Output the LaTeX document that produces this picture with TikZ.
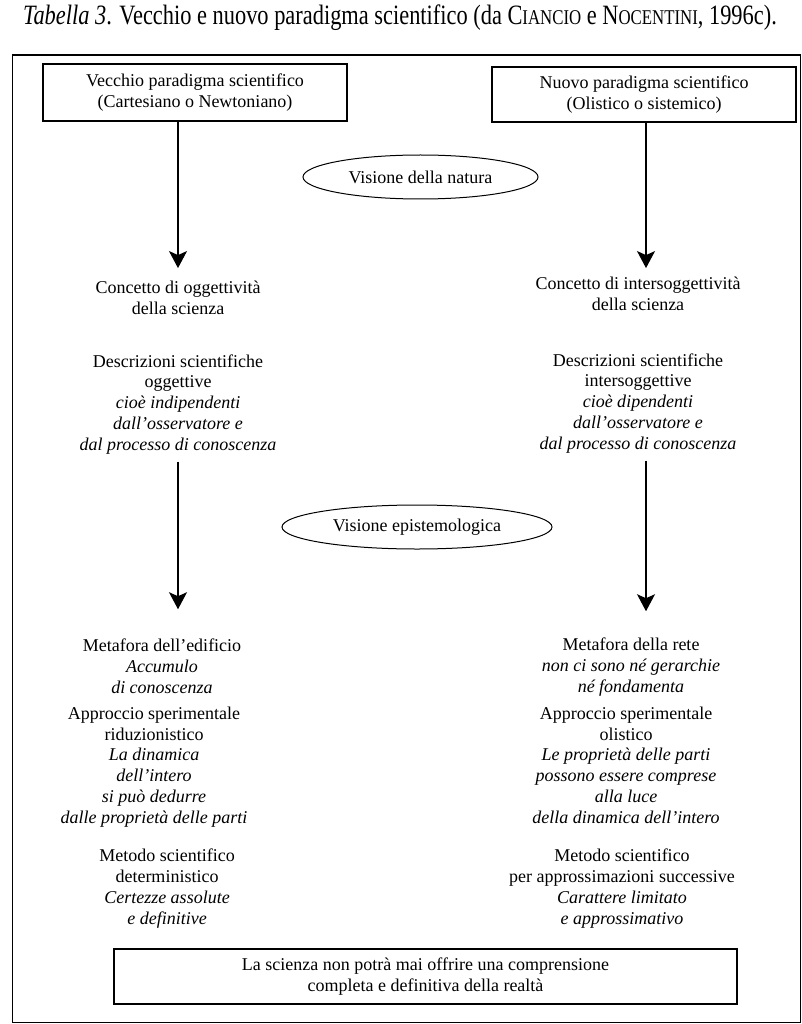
\documentclass[tikz,border=0pt]{standalone}
\usepackage{fontspec}
\setmainfont{Liberation Serif}
\usetikzlibrary{arrows.meta,shapes.geometric}
\newcommand{\fakesc}[1]{{\fontsize{21}{21}\selectfont #1}}
\tikzset{
  txt/.style={align=center, font=\fontsize{18}{20.7}\selectfont, inner sep=0pt, anchor=base},
  boxnode/.style={draw, line width=1.1pt, align=center, font=\fontsize{18}{20.7}\selectfont, inner sep=0pt},
  oval/.style={ellipse, draw, line width=1pt, inner sep=0pt, font=\fontsize{18}{20.7}\selectfont},
  arr/.style={line width=1.3pt, -{Stealth[length=17pt,width=18pt,inset=4pt]}}
}
\begin{document}
\begin{tikzpicture}[x=1pt,y=-1pt]
\useasboundingbox (0,0) rectangle (802,1024);
% title
\node[anchor=base, inner sep=0pt] (title) at (400,24.5)
  {\scalebox{0.8}[1]{\fontsize{28}{28}\selectfont\textit{Tabella 3}. Vecchio e nuovo paradigma scientifico (da C\fakesc{IANCIO} e N\fakesc{OCENTINI}, 1996c).}};
% frame
\draw[line width=1.5pt] (12.5,55) rectangle (800.5,1022.5);
% top boxes
\node[boxnode, minimum width=304pt, minimum height=57pt] (old) at (195,92.5)
  {Vecchio paradigma scientifico\\(Cartesiano o Newtoniano)};
\node[boxnode, minimum width=304pt, minimum height=55pt] (new) at (644,94.5)
  {Nuovo paradigma scientifico\\(Olistico o sistemico)};
% ovals
\node[oval, minimum width=235pt, minimum height=44pt] (natura) at (420.5,177) {Visione della natura};
\node[oval, minimum width=270pt, minimum height=44pt] (episte) at (417,527) {Visione epistemologica};
% left column (anchor base = baseline of the last line)
\node[txt] (A1) at (178,314) {Concetto di oggettività\\della scienza};
\node[txt] (A2) at (178,450) {Descrizioni scientifiche\\oggettive\\\textit{cioè indipendenti}\\\textit{dall’osservatore e}\\\textit{dal processo di conoscenza}};
\node[txt] (A3) at (162,693) {Metafora dell’edificio\\\textit{Accumulo}\\\textit{di conoscenza}};
\node[txt] (A4) at (154,823) {Approccio sperimentale\\riduzionistico\\\textit{La dinamica}\\\textit{dell’intero}\\\textit{si può dedurre}\\\textit{dalle proprietà delle parti}};
\node[txt] (A5) at (167,924) {Metodo scientifico\\deterministico\\\textit{Certezze assolute}\\\textit{e definitive}};
% right column
\node[txt] (B1) at (638,310) {Concetto di intersoggettività\\della scienza};
\node[txt] (B2) at (638,449) {Descrizioni scientifiche\\intersoggettive\\\textit{cioè dipendenti}\\\textit{dall’osservatore e}\\\textit{dal processo di conoscenza}};
\node[txt] (B3) at (631,692) {Metafora della rete\\\textit{non ci sono né gerarchie}\\\textit{né fondamenta}};
\node[txt] (B4) at (626,823) {Approccio sperimentale\\olistico\\\textit{Le proprietà delle parti}\\\textit{possono essere comprese}\\\textit{alla luce}\\\textit{della dinamica dell’intero}};
\node[txt] (B5) at (622,924) {Metodo scientifico\\per approssimazioni successive\\\textit{Carattere limitato}\\\textit{e approssimativo}};
% bottom box
\node[boxnode, minimum width=623pt, minimum height=55pt] (fine) at (425.5,976.5)
  {La scienza non potrà mai offrire una comprensione\\completa e definitiva della realtà};
% arrows
\coordinate (lcol) at (178,0);
\coordinate (rcol) at (646,0);
\draw[arr, shorten >=12.5pt] (old.south -| lcol) -- (A1.north -| lcol);
\draw[arr, shorten >=8.5pt] (new.south -| rcol) -- (B1.north -| rcol);
\draw[arr, shorten <=7.5pt, shorten >=29.5pt] (A2.south -| lcol) -- (A3.north -| lcol);
\draw[arr, shorten <=7.5pt, shorten >=26.5pt] (B2.south -| rcol) -- (B3.north -| rcol);
\end{tikzpicture}
\end{document}
